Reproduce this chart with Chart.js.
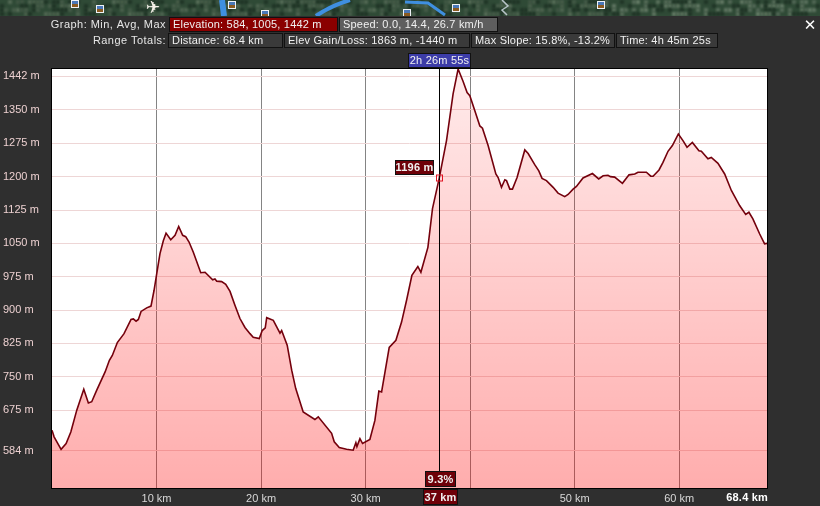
<!DOCTYPE html>
<html>
<head>
<meta charset="utf-8">
<style>
  html, body { margin: 0; padding: 0; background: #2f2f2f; }
  canvas { display: block; }
</style>
<script src="https://cdn.jsdelivr.net/npm/chart.js@4"></script>
</head>
<body>
<canvas id="elevation-chart" width="820" height="506"></canvas>
<script>
const distanceKm = [0, 0.2, 0.87, 1.35, 1.8, 2.37, 3.04, 3.48, 3.8, 4.28, 5.08, 5.49, 5.77, 6.25, 6.89, 7.56, 7.78, 8.04, 8.26, 8.52,
  9.06, 9.47, 9.76, 10.02, 10.33, 10.65, 10.91, 11.36, 11.77, 12.12, 12.5, 12.79, 13.11, 13.52, 14.23, 14.64, 15.37, 15.59, 15.76, 16.23,
  16.62, 17.03, 17.5, 17.98, 18.46, 18.94, 19.25, 19.83, 20.11, 20.4, 20.54, 21.17, 21.81, 21.97, 22.5, 22.93, 23.31, 24.03, 25.15, 25.47,
  26.75, 27, 27.48, 28.18, 28.81, 29.07, 29.17, 29.46, 29.71, 30.41, 30.89, 31.27, 31.53, 32.26, 32.9, 33.44, 33.92, 34.43, 35, 35.29,
  35.96, 36.4, 37.03, 37.74, 38.37, 38.85, 39.33, 39.71, 39.97, 40.45, 40.93, 41.18, 41.72, 42.46, 42.68, 43, 43.32, 43.48, 43.8, 44.05,
  44.49, 45.23, 45.55, 46.18, 46.57, 46.88, 47.3, 47.94, 48.41, 49.05, 49.37, 49.85, 50.17, 50.8, 51.7, 52.3, 52.72, 53.19, 53.42, 53.83,
  54.57, 55.2, 55.75, 56.06, 56.86, 57.28, 57.5, 58.07, 58.45, 58.93, 59.35, 59.92, 60.36, 60.75, 61.26, 61.89, 62.12, 62.75, 63.07, 63.71,
  64.35, 64.99, 65.78, 66.36, 66.67, 67.05, 67.7, 68.17, 68.4];
const elevationM = [630, 615, 587, 600, 626, 675, 722, 691, 694, 720, 761, 787, 798, 827, 847, 879, 880, 875, 879, 897,
  905, 909, 944, 982, 1027, 1056, 1073, 1058, 1068, 1088, 1068, 1065, 1053, 1030, 984, 985, 968, 970, 965, 964,
  958, 942, 911, 881, 861, 847, 839, 836, 854, 860, 883, 877, 848, 854, 821, 765, 724, 671, 654, 660,
  623, 604, 591, 587, 585, 602, 593, 611, 600, 609, 652, 718, 716, 816, 832, 873, 922, 978, 998, 985,
  1041, 1128, 1195, 1281, 1386, 1442, 1414, 1389, 1382, 1348, 1314, 1309, 1270, 1206, 1198, 1176, 1193, 1191, 1172, 1172,
  1198, 1260, 1252, 1227, 1213, 1196, 1191, 1176, 1163, 1155, 1160, 1172, 1178, 1197, 1207, 1195, 1202, 1203, 1200, 1199,
  1185, 1204, 1206, 1210, 1210, 1201, 1201, 1215, 1232, 1257, 1270, 1296, 1281, 1266, 1277, 1258, 1257, 1240, 1243, 1230,
  1206, 1169, 1135, 1115, 1120, 1105, 1071, 1049, 1050];

const xTicks = [10, 20, 30, 40, 50, 60];
const xTickLabels = ['10 km', '20 km', '30 km', '', '50 km', '60 km'];
const yTicks = [1426, 1350, 1275, 1200, 1125, 1050, 975, 900, 825, 750, 675, 584];
const yTickLabels = ['1442 m', '1350 m', '1275 m', '1200 m', '1125 m', '1050 m', '975 m', '900 m', '825 m', '750 m', '675 m', '584 m'];

const cursorKm = 37;
const cursorM = 1196;
const FONT = '11px "Liberation Sans", Arial, sans-serif';

// [text, left, top, right, bottom, fill]
const headerBoxes = [
  ['Elevation: 584, 1005, 1442 m', 169, 17, 338, 32, '#8a0000'],
  ['Speed: 0.0, 14.4, 26.7 km/h', 339, 17, 498, 32, '#5e5e5e'],
  ['Distance: 68.4 km', 168, 33, 283, 48, '#3a3a3a'],
  ['Elev Gain/Loss: 1863 m, -1440 m', 284, 33, 470, 48, '#3a3a3a'],
  ['Max Slope: 15.8%, -13.2%', 471, 33, 615, 48, '#3a3a3a'],
  ['Time: 4h 45m 25s', 616, 33, 718, 48, '#3a3a3a']
];

function drawBox(ctx, text, l, t, r, b, fill, centered) {
  ctx.fillStyle = fill;
  ctx.fillRect(l, t, r - l, b - t);
  ctx.strokeStyle = '#111';
  ctx.lineWidth = 1;
  ctx.strokeRect(l + 0.5, t + 0.5, r - l - 1, b - t - 1);
  ctx.fillStyle = '#f0f0f0';
  ctx.textBaseline = 'middle';
  ctx.textAlign = centered ? 'center' : 'left';
  ctx.fillText(text, centered ? (l + r) / 2 : l + 4, (t + b) / 2 + 0.5);
}

// satellite photo strip behind the header, only a rough look-alike
function drawMapStrip(ctx) {
  ctx.save();
  ctx.beginPath();
  ctx.rect(0, 0, 820, 16);
  ctx.clip();
  ctx.fillStyle = '#2f4a36';
  ctx.fillRect(0, 0, 820, 16);
  ctx.filter = 'blur(1.2px)';
  for (let x = 0; x < 820; x += 4) {
    for (let y = 0; y < 16; y += 4) {
      const n = Math.sin(x * 0.23 + y * 1.3) + Math.sin(x * 0.071 - y * 0.7) + Math.sin(x * 0.97 + y * 2.9);
      const lift = x > 600 ? 16 : 0;
      if (n > 0.5) {
        ctx.fillStyle = `rgb(${58 + lift + n * 10},${80 + lift + n * 10},${62 + lift + n * 9})`;
        ctx.fillRect(x, y, 4, 4);
      } else if (n < -0.9) {
        ctx.fillStyle = '#203426';
        ctx.fillRect(x, y, 4, 4);
      }
    }
  }
  ctx.filter = 'none';
  ctx.strokeStyle = '#3f8fe0';
  ctx.lineWidth = 6;
  ctx.beginPath(); ctx.moveTo(222, 0); ctx.lineTo(224, 16); ctx.stroke();
  ctx.lineWidth = 4;
  ctx.beginPath(); ctx.moveTo(350, 0); ctx.quadraticCurveTo(330, 6, 316, 16); ctx.stroke();
  ctx.lineWidth = 3;
  ctx.beginPath(); ctx.moveTo(405, 2); ctx.lineTo(428, 3); ctx.lineTo(445, 15); ctx.stroke();
  ctx.strokeStyle = '#b8c4c8';
  ctx.lineWidth = 1.5;
  ctx.beginPath(); ctx.moveTo(502, 0); ctx.lineTo(508, 6); ctx.lineTo(502, 10); ctx.lineTo(507, 15); ctx.stroke();
  [[75, 4], [100, 9], [232, 5], [265, 14], [407, 13], [456, 8], [601, 5]].forEach(([x, y]) => {
    ctx.fillStyle = '#eef2f6';
    ctx.fillRect(x - 4, y - 4, 8, 8);
    ctx.fillStyle = '#4a78b8';
    ctx.fillRect(x - 3, y - 3, 6, 3);
    ctx.fillStyle = '#8a5a20';
    ctx.fillRect(x - 3, y, 6, 3);
  });
  ctx.fillStyle = '#f4f0e8';
  ctx.font = '17px "DejaVu Sans"';
  ctx.textAlign = 'center';
  ctx.textBaseline = 'middle';
  ctx.fillText('\u2708', 153, 9);
  ctx.restore();
}

const backdrop = {
  id: 'backdrop',
  beforeDraw(chart) {
    const { ctx, chartArea: a } = chart;
    ctx.save();
    ctx.fillStyle = '#2f2f2f';
    ctx.fillRect(0, 0, 820, 506);
    drawMapStrip(ctx);
    ctx.fillStyle = '#ffffff';
    ctx.fillRect(a.left, a.top, a.right - a.left, a.bottom - a.top);
    ctx.restore();
  }
};

const overlay = {
  id: 'overlay',
  afterDraw(chart) {
    const { ctx, chartArea: a, scales } = chart;
    const cx = Math.round(scales.x.getPixelForValue(cursorKm)) + 0.5;
    const cy = Math.round(scales.y.getPixelForValue(cursorM));
    ctx.save();
    // plot frame
    ctx.strokeStyle = '#000';
    ctx.lineWidth = 1;
    ctx.strokeRect(a.left - 0.5, a.top - 0.5, a.right - a.left + 1, a.bottom - a.top + 1);
    // cursor
    ctx.beginPath();
    ctx.moveTo(cx, a.top);
    ctx.lineTo(cx, 471);
    ctx.stroke();
    ctx.strokeStyle = '#e01020';
    ctx.strokeRect(cx - 3, cy - 3, 6, 6);

    ctx.font = FONT;
    ctx.fillStyle = '#e6e6e6';
    ctx.textAlign = 'right';
    ctx.textBaseline = 'middle';
    ctx.letterSpacing = '0.45px';
    ctx.fillText('Graph: Min, Avg, Max', 166, 25);
    ctx.fillText('Range Totals:', 166, 41);
    ctx.letterSpacing = '0.2px';
    headerBoxes.forEach(b => drawBox(ctx, ...b, false));

    drawBox(ctx, '2h 26m 55s', 408, 53, 471, 68, '#3c3ca8', true);
    ctx.font = 'bold 11px "Liberation Sans", Arial, sans-serif';
    drawBox(ctx, '1196 m', 395, 160, 434, 175, '#6e0008', true);
    drawBox(ctx, '9.3%', 425, 471, 456, 487, '#6e0008', true);
    drawBox(ctx, '37 km', 423, 489, 458, 505, '#6e0008', true);
    ctx.fillStyle = '#ffffff';
    ctx.textAlign = 'right';
    ctx.fillText('68.4 km', 768, 497.5);
    ctx.letterSpacing = '0px';
    ctx.font = 'bold 15px "DejaVu Sans"';
    ctx.textAlign = 'center';
    ctx.fillText('\u2715', 810, 26);
    ctx.restore();
  }
};

new Chart(document.querySelector('#elevation-chart').getContext('2d'), {
  type: 'line',
  data: {
    labels: distanceKm,
    datasets: [{
      data: distanceKm.map((km, i) => ({ x: km, y: elevationM[i] })),
      borderColor: '#74000c',
      borderWidth: 1.6,
      pointRadius: 0,
      tension: 0,
      fill: 'start',
      backgroundColor(context) {
        const a = context.chart.chartArea;
        if (!a) return 'rgba(255,0,0,0.2)';
        const g = context.chart.ctx.createLinearGradient(0, a.top, 0, a.bottom);
        g.addColorStop(0, 'rgba(255,0,0,0.08)');
        g.addColorStop(1, 'rgba(255,0,0,0.32)');
        return g;
      }
    }]
  },
  options: {
    responsive: false,
    animation: false,
    layout: { padding: { top: 69, right: 53, left: 3, bottom: 0 } },
    plugins: { legend: { display: false }, tooltip: { enabled: false } },
    scales: {
      x: {
        type: 'linear',
        min: 0,
        max: 68.4,
        afterFit(scale) { scale.height = 18; },
        afterBuildTicks(scale) { scale.ticks = xTicks.map(value => ({ value })); },
        border: { display: false },
        grid: { color: 'rgba(110,110,110,0.85)', drawTicks: false },
        ticks: {
          autoSkip: false,
          maxRotation: 0,
          padding: 4,
          color: '#d8d8d8',
          font: { family: '"Liberation Sans", Arial, sans-serif', size: 11 },
          callback: value => xTickLabels[xTicks.indexOf(value)]
        }
      },
      y: {
        min: 500,
        max: 1442,
        afterFit(scale) { scale.width = 49; },
        afterBuildTicks(scale) { scale.ticks = yTicks.map(value => ({ value })); },
        border: { display: false },
        grid: { color: '#eed6d6', drawTicks: false },
        ticks: {
          autoSkip: false,
          crossAlign: 'far',
          padding: 2,
          color: '#ecd0d0',
          font: { family: '"Liberation Sans", Arial, sans-serif', size: 11 },
          callback: value => yTickLabels[yTicks.indexOf(value)]
        }
      }
    }
  },
  plugins: [backdrop, overlay]
});
</script>
</body>
</html>
